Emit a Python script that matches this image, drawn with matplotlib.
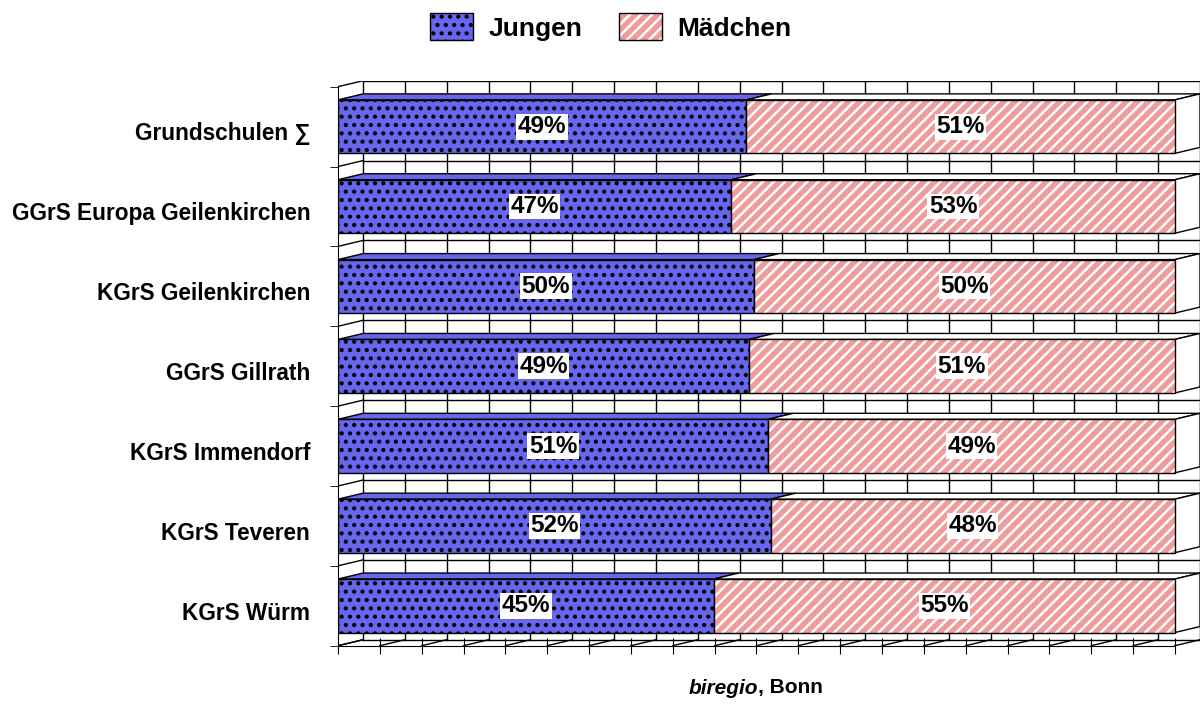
# Anteil Jungen / Mädchen an Grundschulen (3D-Balken im Excel-Stil)
import numpy as np
import matplotlib
matplotlib.use('Agg')
import matplotlib.pyplot as plt
from matplotlib.patches import Patch, Polygon
from matplotlib.legend_handler import HandlerTuple

plt.rcParams['font.family'] = ['Liberation Sans', 'DejaVu Sans']
plt.rcParams['font.weight'] = 'bold'
plt.rcParams['hatch.linewidth'] = 1.8

# Daten
schulen = ['Grundschulen ∑', 'GGrS Europa Geilenkirchen', 'KGrS Geilenkirchen',
           'GGrS Gillrath', 'KGrS Immendorf', 'KGrS Teveren', 'KGrS Würm']
jungen = [48.8, 47.0, 49.7, 49.1, 51.4, 51.7, 44.9]
maedchen = [51.2, 53.0, 50.3, 50.9, 48.6, 48.3, 55.1]

farbe_j = '#6666EE'
farbe_m = '#F09C9C'

# 3D-Versatz (nach hinten rechts oben)
dx = 3.0
dy = 0.075
hoehe = 0.67

n = len(schulen)
y = np.arange(n)

fig = plt.figure(figsize=(12, 7.04), dpi=100)
ax = fig.add_axes([338/1200, (704-645.7)/704, (1200-338)/1200, (645.7-80.7)/704])
ax.set_xlim(0, 100 + dx)
ax.set_ylim(n - 0.5, -0.5 - dy)

# Rückwand mit Gitterlinien
for xv in np.arange(0, 101, 5):
    ax.plot([xv + dx, xv + dx], [-0.5 - dy, n - 0.5 - dy], color='black', lw=1, zorder=1)
    ax.plot([xv, xv + dx], [n - 0.5, n - 0.5 - dy], color='black', lw=1, zorder=1)
for b in np.arange(-0.5, n, 1.0):
    ax.plot([0, dx], [b, b - dy], color='black', lw=1, zorder=1)
    ax.plot([dx, 100 + dx], [b - dy, b - dy], color='black', lw=1, zorder=1)

# Ober- und Seitenflächen der Balken
for i in range(n):
    oben = i - hoehe / 2
    unten = i + hoehe / 2
    j = jungen[i]
    ax.add_patch(Polygon([(0, oben), (dx, oben - dy), (j + dx, oben - dy), (j, oben)],
                         facecolor=farbe_j, edgecolor='black', lw=1, zorder=2))
    ax.add_patch(Polygon([(j, oben), (j + dx, oben - dy), (100 + dx, oben - dy), (100, oben)],
                         facecolor='white', edgecolor='black', lw=1, zorder=2))
    ax.add_patch(Polygon([(100, oben), (100 + dx, oben - dy), (100 + dx, unten - dy), (100, unten)],
                         facecolor='white', edgecolor='black', lw=1, zorder=2))

# Vorderseiten
ax.barh(y, jungen, height=hoehe, color=farbe_j, edgecolor='black', hatch='..', lw=1, zorder=3)
ax.barh(y, maedchen, left=jungen, height=hoehe, color=farbe_m, edgecolor='white',
        hatch='///', lw=0, zorder=3)
ax.barh(y, maedchen, left=jungen, height=hoehe, fill=False, edgecolor='black', lw=1, zorder=3.1)

# Beschriftungen der Werte
for i in range(n):
    j = jungen[i]
    m = maedchen[i]
    ax.text(j / 2, i, f'{round(j)}%', ha='center', va='center', fontsize=17.5, zorder=5,
            bbox=dict(facecolor='white', edgecolor='none', pad=1))
    ax.text(j + m / 2, i, f'{round(m)}%', ha='center', va='center', fontsize=17.5, zorder=5,
            bbox=dict(facecolor='white', edgecolor='none', pad=1))

# Achsen
for s in ['top', 'right']:
    ax.spines[s].set_visible(False)
ax.spines['left'].set_bounds(-0.5, n - 0.5)
ax.spines['bottom'].set_bounds(0, 100)
ax.set_xticks(np.arange(0, 101, 5))
ax.tick_params(axis='x', direction='inout', length=11.5, labelbottom=False)
ax.set_yticks(y + 0.06)
ax.set_yticklabels(schulen, fontsize=16.3)
ax.set_yticks(np.arange(-0.5, n, 1.0), minor=True)
ax.tick_params(axis='y', which='major', length=0, pad=20)
ax.tick_params(axis='y', which='minor', direction='out', length=5.8)

# Legende
h_j = Patch(facecolor=farbe_j, edgecolor='black', hatch='..', lw=1)
h_m = (Patch(facecolor=farbe_m, edgecolor='white', hatch='///', lw=0),
       Patch(fill=False, edgecolor='black', lw=1))
fig.legend([h_j, h_m], ['Jungen', 'Mädchen'], loc='upper center', bbox_to_anchor=(0.509, 1.015),
           ncol=2, frameon=False, fontsize=19, handlelength=1.63, handleheight=1.21,
           handletextpad=0.57, columnspacing=1.4, handler_map={tuple: HandlerTuple(ndivide=1)})

# Quelle
fig.text(758/1200, 1 - 688/704, 'biregio', style='italic', ha='right', va='center', fontsize=15)
fig.text(758/1200, 1 - 688/704, ', Bonn', ha='left', va='center', fontsize=15)

fig.savefig('out.png', dpi=100)
